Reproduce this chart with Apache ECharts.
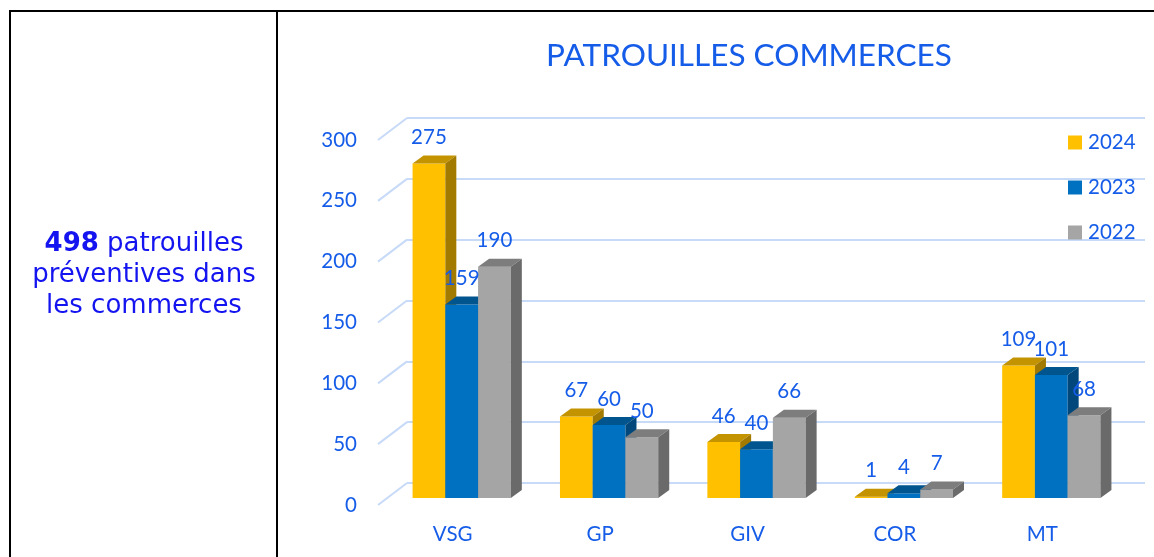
<!DOCTYPE html>
<html>
<head>
<meta charset="utf-8">
<script src="https://cdn.jsdelivr.net/npm/echarts@6/dist/echarts.min.js"></script>
<style>
html,body{margin:0;padding:0;background:#fff;}
#c{width:1154px;height:557px;}
</style>
</head>
<body>
<div id="c"></div>
<script>
const categories = ['VSG', 'GP', 'GIV', 'COR', 'MT'];
const years = ['2024', '2023', '2022'];
const s2024 = [275, 67, 46, 1, 109];
const s2023 = [159, 60, 40, 4, 101];
const s2022 = [190, 50, 66, 7, 68];
const yTicks = [0, 50, 100, 150, 200, 250, 300];

const BLUE = '#155ce8';
const FONT = 'Lato';
const faces = [
  {front: '#FFC000', top: '#C49300', side: '#A37A00'},
  {front: '#0070C0', top: '#00558F', side: '#00487C'},
  {front: '#A5A5A5', top: '#7D7D7D', side: '#6A6A6A'}
];
const DX = 11, DY = -8;

function render3D(idx) {
  const f = faces[idx];
  return function (params, api) {
    const ci = api.value(0), v = api.value(1);
    const c = api.coord([ci, v]);
    const b = api.coord([ci, 0]);
    const band = api.size([1, 0])[0];
    const bw = band * 0.2222;
    const x0 = c[0] + (idx - 1.5) * bw;
    const x1 = x0 + bw;
    const yt = c[1], yb = b[1];
    return {
      type: 'group',
      children: [
        {type: 'rect', shape: {x: x0, y: yt, width: bw, height: Math.max(yb - yt, 0.5)}, style: {fill: f.front}},
        {type: 'polygon', shape: {points: [[x0, yt], [x0 + DX, yt + DY], [x1 + DX, yt + DY], [x1, yt]]}, style: {fill: f.top}},
        {type: 'polygon', shape: {points: [[x1, yt], [x1 + DX, yt + DY], [x1 + DX, yb + DY], [x1, yb]]}, style: {fill: f.side}},
        {type: 'text', z2: 100, style: {text: String(v), x: (x0 + x1) / 2, y: yt - 26, textAlign: 'center', textVerticalAlign: 'middle', fill: BLUE, font: '20.5px ' + FONT}}
      ]
    };
  };
}

const seriesData = [s2024, s2023, s2022];
const barSeries = years.map((y, k) => ({
  name: y,
  type: 'custom',
  xAxisIndex: 0,
  yAxisIndex: 0,
  itemStyle: {color: faces[k].front},
  encode: {x: 0, y: 1},
  data: categories.map((c, i) => [i, seriesData[k][i]]),
  renderItem: render3D(k),
  z: 2
}));

const diagSeries = {
  type: 'custom',
  xAxisIndex: 1,
  yAxisIndex: 1,
  silent: true,
  z: 1,
  encode: {x: 0, y: 1},
  data: yTicks.map(t => [0, t]),
  renderItem: function (params, api) {
    const p = api.coord([0, api.value(1)]);
    return {type: 'line', shape: {x1: p[0], y1: p[1], x2: p[0] - 29, y2: p[1] + 22}, style: {stroke: '#C7DAF7', lineWidth: 2}};
  }
};

const chart = echarts.init(document.getElementById('c'));
chart.setOption({
  backgroundColor: '#fff',
  animation: false,
  grid: [
    {left: 388, right: 29, top: 133, bottom: 59},
    {left: 407, right: 9, top: 118, bottom: 74},
    {left: 379, right: 9, top: 140, bottom: 52}
  ],
  xAxis: [
    {gridIndex: 0, type: 'category', data: categories, axisLine: {show: false}, axisTick: {show: false},
     axisLabel: {margin: 26, padding: [0, 18, 0, 0], color: BLUE, fontFamily: FONT, fontSize: 20.5}},
    {gridIndex: 1, type: 'value', min: 0, max: 1, show: false},
    {gridIndex: 2, type: 'value', min: 0, max: 1, show: false}
  ],
  yAxis: [
    {gridIndex: 0, type: 'value', min: 0, max: 300, interval: 50, show: false},
    {gridIndex: 1, type: 'value', min: 0, max: 300, interval: 50, axisLine: {show: false}, axisTick: {show: false},
     axisLabel: {show: false}, splitLine: {lineStyle: {color: '#C7DAF7', width: 2}}},
    {gridIndex: 2, type: 'value', min: 0, max: 300, interval: 50, axisLine: {show: false}, axisTick: {show: false},
     splitLine: {show: false}, axisLabel: {margin: 22, color: BLUE, fontFamily: FONT, fontSize: 20.5}}
  ],
  legend: {
    data: years,
    orient: 'vertical',
    left: 1068,
    top: 132,
    padding: 0,
    itemWidth: 14,
    itemHeight: 14,
    itemGap: 24,
    icon: 'rect',
    textStyle: {color: BLUE, fontFamily: FONT, fontSize: 20.5, padding: [0, 0, 0, 1]}
  },
  graphic: [
    {type: 'line', shape: {x1: 9, y1: 11, x2: 1154, y2: 11}, style: {stroke: '#000', lineWidth: 2}},
    {type: 'line', shape: {x1: 10, y1: 10, x2: 10, y2: 560}, style: {stroke: '#000', lineWidth: 2}},
    {type: 'line', shape: {x1: 277, y1: 10, x2: 277, y2: 560}, style: {stroke: '#000', lineWidth: 2}},
    {type: 'text', x: 749, y: 56, style: {text: 'PATROUILLES COMMERCES', textAlign: 'center', textVerticalAlign: 'middle', fill: BLUE, font: '31.5px ' + FONT}},
    {type: 'text', x: 144, y: 275, style: {
      text: '{b|498} patrouilles\npréventives dans\nles commerces',
      textAlign: 'center', textVerticalAlign: 'middle',
      fill: '#1414F0', font: '26px "DejaVu Sans"', lineHeight: 31,
      rich: {b: {fontWeight: 'bold', fontFamily: 'DejaVu Sans', fontSize: 26, fill: '#1414F0', lineHeight: 31}}
    }}
  ],
  series: [diagSeries].concat(barSeries)
});
</script>
</body>
</html>
